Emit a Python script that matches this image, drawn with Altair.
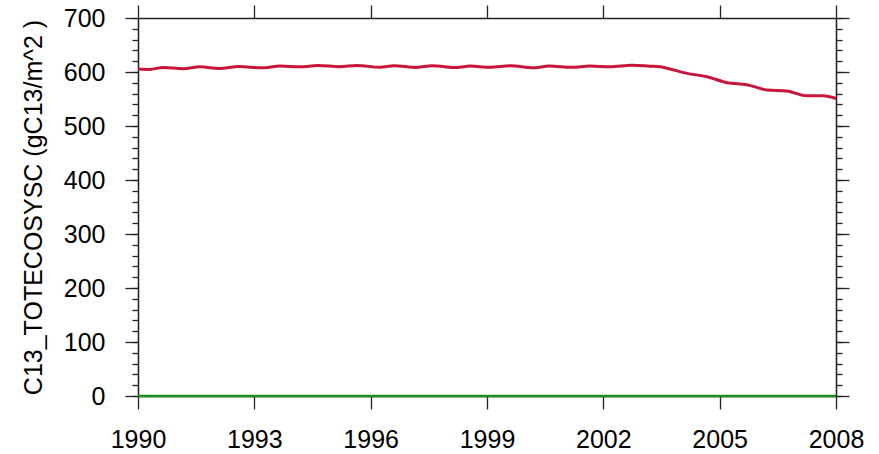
import altair as alt
import pandas as pd

# ---- data ----
years = [1990.0, 1990.3, 1990.65, 1991.16, 1991.6, 1992.1, 1992.6, 1993.2, 1993.66,
         1994.18, 1994.64, 1995.2, 1995.65, 1996.24, 1996.6, 1997.19, 1997.58,
         1998.23, 1998.56, 1999.08, 1999.6, 2000.19, 2000.6, 2001.2, 2001.65,
         2002.17, 2002.74, 2003.2, 2003.46, 2003.64, 2004.16, 2004.67, 2005.19,
         2005.7, 2006.22, 2006.73, 2007.25, 2007.67, 2008.0]
c13_totecosysc = [605.5, 604.8, 608.5, 606.0, 609.5, 606.5, 610.0, 607.8, 611.0,
                  609.5, 612.0, 609.8, 612.0, 608.8, 611.8, 608.5, 611.5,
                  608.3, 611.0, 608.6, 611.5, 607.8, 611.0, 608.6, 611.0,
                  609.8, 612.5, 610.8, 609.8, 607.0, 597.5, 591.3, 580.2,
                  576.5, 566.7, 564.8, 556.0, 556.0, 551.0]
zero_years = [1990, 2008]
zero_values = [0, 0]

x_major = [1990, 1993, 1996, 1999, 2002, 2005, 2008]
y_major = [0, 100, 200, 300, 400, 500, 600, 700]
y_minor = [0, 20, 40, 60, 80, 100, 120, 140, 160, 180, 200, 220, 240, 260, 280,
           300, 320, 340, 360, 380, 400, 420, 440, 460, 480, 500, 520, 540, 560,
           580, 600, 620, 640, 660, 680, 700]

y_title = "C13_TOTECOSYSC (gC13/m^2 )"

red_df = pd.DataFrame({"year": years, "value": c13_totecosysc})
green_df = pd.DataFrame({"year": zero_years, "value": zero_values})

FONT = "Liberation Sans"
AX = "#222222"
xs = alt.Scale(domain=[1990, 2008], nice=False, zero=False)
ys = alt.Scale(domain=[0, 700], nice=False, zero=False)

common = dict(domain=True, domainColor=AX, domainWidth=1.3, ticks=True,
              tickColor=AX, tickWidth=1.3, grid=False)

x_bottom = alt.Axis(orient="bottom", values=x_major, tickSize=13, format="d",
                    labelFont=FONT, labelFontSize=25, labelColor="black",
                    labelPadding=18, labelFlush=False, labelOverlap=False,
                    labelAlign="center", title=None, **common)
x_top = alt.Axis(orient="top", values=x_major, tickSize=13, labels=False,
                 title=None, **common)
y_left = alt.Axis(orient="left", values=y_major, tickSize=13,
                  labelFont=FONT, labelFontSize=25, labelColor="black",
                  labelPadding=20, labelBaseline="middle", labelFlush=False,
                  labelOverlap=False,
                  title=y_title, titleFont=FONT, titleFontSize=25,
                  titleFontWeight="normal", titleColor="black",
                  titleAngle=270, titleX=-105, titleY=189,
                  titleAlign="center", titleBaseline="middle", **common)
y_left_minor = alt.Axis(orient="left", values=y_minor, tickSize=6, labels=False,
                        title=None, **common)
y_right = alt.Axis(orient="right", values=y_major, tickSize=13, labels=False,
                   title=None, **common)
y_right_minor = alt.Axis(orient="right", values=y_minor, tickSize=6, labels=False,
                         title=None, **common)

red = alt.Chart(red_df).mark_line(color="#C8153C", strokeWidth=3,
                                  interpolate="monotone").encode(
    x=alt.X("year:Q", scale=xs, axis=x_bottom),
    y=alt.Y("value:Q", scale=ys, axis=y_left),
)
green = alt.Chart(green_df).mark_line(color="#1E8C1E", strokeWidth=2.5).encode(
    x=alt.X("year:Q", scale=xs, axis=x_top),
    y=alt.Y("value:Q", scale=ys, axis=y_left_minor),
)
ghost1 = alt.Chart(green_df).mark_line(strokeOpacity=0).encode(
    x=alt.X("year:Q", scale=xs, axis=None),
    y=alt.Y("value:Q", scale=ys, axis=y_right),
)
ghost2 = alt.Chart(green_df).mark_line(strokeOpacity=0).encode(
    x=alt.X("year:Q", scale=xs, axis=None),
    y=alt.Y("value:Q", scale=ys, axis=y_right_minor),
)

chart = alt.layer(ghost1, ghost2, green, red).resolve_axis(
    x="independent", y="independent"
).properties(
    width=698, height=378,
    autosize=alt.AutoSizeParams(type="none"),
    padding={"left": 138, "top": 18, "right": 43, "bottom": 58},
    background="white",
).configure_view(stroke=None)

chart.save("out.html", embed_options={"renderer": "svg", "actions": False})
